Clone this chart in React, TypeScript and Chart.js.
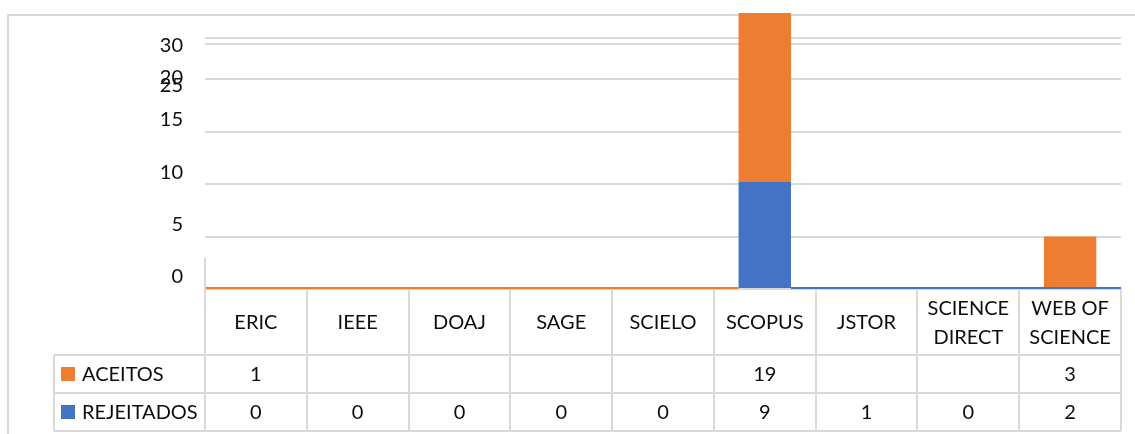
import React, { useEffect, useRef } from 'react';
import { Chart, registerables } from 'chart.js';

Chart.register(...registerables);

// ---- data ----
const CATEGORIES: string[][] = [
  ['ERIC'], ['IEEE'], ['DOAJ'], ['SAGE'], ['SCIELO'], ['SCOPUS'], ['JSTOR'],
  ['SCIENCE', 'DIRECT'], ['WEB OF', 'SCIENCE'],
];
const SERIES_NAMES = ['ACEITOS', 'REJEITADOS'];
// values printed in the data table
const TABLE_ACEITOS = ['1', '', '', '', '', '19', '', '', '3'];
const TABLE_REJEITADOS = ['0', '0', '0', '0', '0', '9', '1', '0', '2'];
// bar heights as drawn in the plot area
const BAR_REJEITADOS = [0, 0, 0, 0, 0, 10.2, 0, 0, 0];
const BAR_ACEITOS = [0, 0, 0, 0, 0, 19, 0, 0, 5];
const Y_MAX = 26.3;
// y-axis ticks (value, label text, whether a gridline is drawn)
const Y_TICK_VALUES = [0, 5, 10, 15, 20, 23.33, 23.9, 19.05, 18.2, 22.1];
const Y_TICK_LABELS = ['0', '5', '10', '15', '', '', '', '20', '25', '30'];
const Y_TICK_GRID = [true, true, true, true, true, true, true, false, false, false];
const SPLIT_CATEGORY = 5;

const ORANGE = '#ED7D31';
const BLUE = '#4472C4';
const GRID = '#D9D9D9';
const TEXT = '#0d0d0d';
const FONT = 'Lato, "Open Sans", sans-serif';
const FONT_SIZE = 20;

const tablePlugin = {
  id: 'tablePlugin',
  beforeDraw(chart: any) {
    const ctx = chart.ctx;
    ctx.save();
    ctx.strokeStyle = GRID;
    ctx.lineWidth = 2;
    ctx.beginPath();
    ctx.moveTo(8, chart.height);
    ctx.lineTo(8, 15);
    ctx.lineTo(chart.width, 15);
    ctx.stroke();
    ctx.restore();
  },
  afterDatasetsDraw(chart: any) {
    const ctx = chart.ctx;
    const area = chart.chartArea;
    const meta = chart.getDatasetMeta(0);
    const bar: any = meta.data[SPLIT_CATEGORY];
    const props = bar.getProps(['x', 'width'], true);
    const y = area.bottom - 1;
    ctx.save();
    ctx.lineWidth = 2;
    ctx.strokeStyle = ORANGE;
    ctx.beginPath();
    ctx.moveTo(area.left, y);
    ctx.lineTo(props.x - props.width / 2, y);
    ctx.stroke();
    ctx.strokeStyle = BLUE;
    ctx.beginPath();
    ctx.moveTo(props.x + props.width / 2, y);
    ctx.lineTo(area.right, y);
    ctx.stroke();
    ctx.restore();
  },
  afterDraw(chart: any) {
    const ctx = chart.ctx;
    const area = chart.chartArea;
    const xScale = chart.scales.x;
    const yScale = chart.scales.y;
    const n = CATEGORIES.length;
    const colW = (area.right - area.left) / n;
    const top = area.bottom;
    const headerBottom = top + 66;
    const row1Bottom = headerBottom + 38;
    const row2Bottom = row1Bottom + 38;
    const legendLeft = 54;

    ctx.save();
    ctx.strokeStyle = GRID;
    ctx.lineWidth = 2;
    ctx.beginPath();
    [headerBottom, row1Bottom, row2Bottom].forEach((yy) => {
      ctx.moveTo(legendLeft, yy);
      ctx.lineTo(area.right, yy);
    });
    ctx.moveTo(legendLeft, headerBottom);
    ctx.lineTo(legendLeft, row2Bottom);
    for (let i = 0; i <= n; i++) {
      const x = Math.round(area.left + i * colW);
      const y0 = i === 0 ? yScale.getPixelForValue(3) : top;
      ctx.moveTo(x, y0);
      ctx.lineTo(x, row2Bottom);
    }
    ctx.stroke();

    ctx.fillStyle = TEXT;
    ctx.font = `${FONT_SIZE}px ${FONT}`;
    ctx.textAlign = 'center';
    ctx.textBaseline = 'middle';
    const headerMid = (top + headerBottom) / 2 + 1;
    const lineH = 29;
    CATEGORIES.forEach((lines, i) => {
      const cx = xScale.getPixelForValue(i);
      lines.forEach((ln, j) => {
        const yy = headerMid + (j - (lines.length - 1) / 2) * lineH;
        ctx.fillText(ln, cx, yy);
      });
    });
    const r1 = (headerBottom + row1Bottom) / 2 + 1;
    const r2 = (row1Bottom + row2Bottom) / 2 + 1;
    TABLE_ACEITOS.forEach((v, i) => ctx.fillText(v, xScale.getPixelForValue(i), r1));
    TABLE_REJEITADOS.forEach((v, i) => ctx.fillText(v, xScale.getPixelForValue(i), r2));

    // legend keys
    ctx.textAlign = 'left';
    [[SERIES_NAMES[0], ORANGE, r1], [SERIES_NAMES[1], BLUE, r2]].forEach(([name, col, yy]: any) => {
      ctx.fillStyle = col;
      ctx.fillRect(61, yy - 8, 14, 14);
      ctx.fillStyle = TEXT;
      ctx.fillText(name, 82, yy);
    });
    ctx.restore();
  },
};

export default function App() {
  const ref = useRef<HTMLCanvasElement | null>(null);
  useEffect(() => {
    if (!ref.current) return;
    const chart = new Chart(ref.current, {
      type: 'bar',
      data: {
        labels: CATEGORIES.map((c) => c.join(' ')),
        datasets: [
          { label: SERIES_NAMES[1], data: BAR_REJEITADOS, backgroundColor: BLUE, clip: 0 as any },
          { label: SERIES_NAMES[0], data: BAR_ACEITOS, backgroundColor: ORANGE, clip: 0 as any },
        ],
      },
      options: {
        animation: false,
        responsive: false,
        layout: { padding: { left: 0, right: 14, top: 13, bottom: 145 } },
        datasets: { bar: { categoryPercentage: 1, barPercentage: 0.515 } } as any,
        plugins: { legend: { display: false }, tooltip: { enabled: false } },
        scales: {
          x: { stacked: true, display: false },
          y: {
            stacked: true,
            min: 0,
            max: Y_MAX,
            afterBuildTicks: (scale: any) => {
              scale.ticks = Y_TICK_VALUES.map((v, i) => ({ value: v, grid: Y_TICK_GRID[i] }));
            },
            afterFit: (scale: any) => {
              scale.width = 205;
              scale.paddingTop = 0;
              scale.paddingBottom = 0;
            },
            border: { display: false },
            grid: {
              drawTicks: false,
              lineWidth: 2,
              color: (c: any) => (c.tick && c.tick.grid ? GRID : 'rgba(0,0,0,0)'),
            },
            ticks: {
              autoSkip: false,
              padding: 22,
              labelOffset: -12,
              color: TEXT,
              font: { family: FONT, size: FONT_SIZE },
              callback: (_v: any, i: number) => Y_TICK_LABELS[i],
            },
          },
        },
      },
      plugins: [tablePlugin],
    });
    return () => chart.destroy();
  }, []);
  return (
    <div style={{ position: 'fixed', left: 0, top: 0, width: 1135, height: 434, background: '#fff' }}>
      <canvas ref={ref} width={1135} height={434} style={{ display: 'block' }} />
    </div>
  );
}
